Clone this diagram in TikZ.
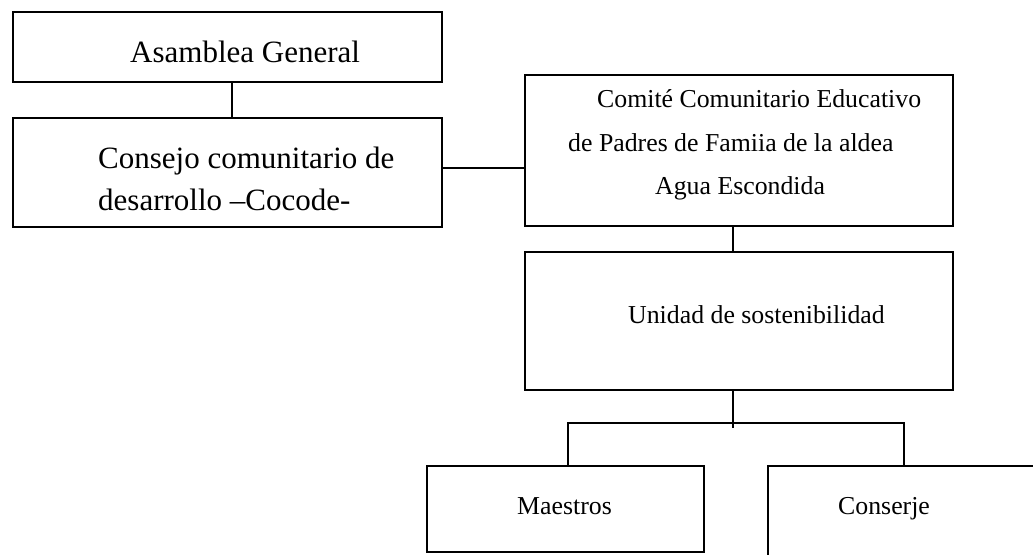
\documentclass[tikz,border=0pt]{standalone}
\usepackage{fontspec}
\setmainfont{Liberation Serif}
\begin{document}
\begin{tikzpicture}[x=1pt,y=-1pt,
  box/.style={draw, line width=2.2pt, inner sep=0pt, outer sep=0pt},
  link/.style={draw, line width=1.4pt},
  big/.style={anchor=base west, inner sep=0pt, font=\fontsize{31}{31}\selectfont},
  small/.style={anchor=base west, inner sep=0pt, font=\fontsize{25.8}{25.8}\selectfont}]
\useasboundingbox (0,0) rectangle (1033,554);
\clip (0,0) rectangle (1033,554);
% boxes
\node[box, minimum width=429pt, minimum height=70pt]  (asam)     at (227.5,47) {};
\node[box, minimum width=429pt, minimum height=109pt] (cons)     at (227.5,172.5) {};
\node[box, minimum width=428pt, minimum height=151pt] (comite)   at (739,150.5) {};
\node[box, minimum width=428pt, minimum height=138pt] (unidad)   at (739,321) {};
\node[box, minimum width=277pt, minimum height=86pt]  (maestros) at (565.5,509) {};
\node[box, minimum width=272pt, minimum height=96pt]  (conserje) at (904,514) {};
% texts
\node[big] (tasam) at (130,62) {Asamblea General};
\node[big] (tcons1) at (98,168) {Consejo comunitario de};
\node[big] (tcons2) at (98,210) {desarrollo –Cocode-};
\node[small] (tcom1) at (597,107) {Comité Comunitario Educativo};
\node[small] (tcom2) at (568,151) {de Padres de Famiia de la aldea};
\node[small] (tcom3) at (655,194) {Agua Escondida};
\node[small] (tuni) at (628,323) {Unidad de sostenibilidad};
\node[small] (tmae) at (517,514) {Maestros};
\node[small] (tcon) at (838,514) {Conserje};
% connector coordinates
\coordinate (k1) at (232,0);
\coordinate (k2) at (0,168);
\coordinate (k3) at (733,0);
\coordinate (busL) at (568,423);
\coordinate (busR) at (904,423);
\coordinate (busEnd) at (733,428);
% connectors
\draw[link] (k1 |- asam.south) -- (k1 |- cons.north);
\draw[link] (cons.east |- k2) -- (comite.west |- k2);
\draw[link] (k3 |- comite.south) -- (k3 |- unidad.north);
\draw[link] (k3 |- unidad.south) -- (busEnd);
\draw[link] (busL |- maestros.north) -- (busL) -- (busR) -- (busR |- conserje.north);
\end{tikzpicture}
\end{document}
